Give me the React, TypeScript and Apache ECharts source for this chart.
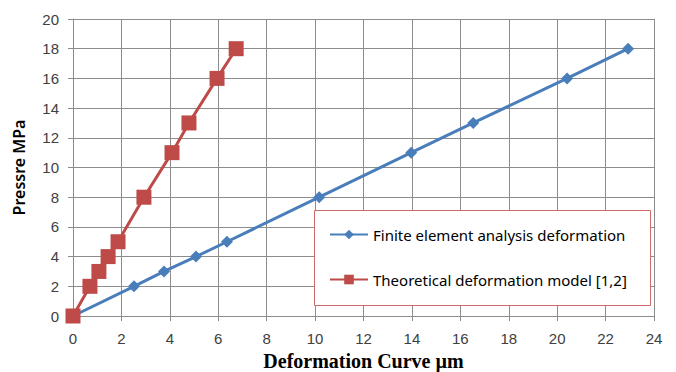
import React, { useEffect, useRef } from "react";
import * as echarts from "echarts";

const feaX = [0, 2.52, 3.76, 5.08, 6.36, 10.17, 13.97, 16.53, 20.41, 22.93];
const feaY = [0, 2, 3, 4, 5, 8, 11, 13, 16, 18];
const theoX = [0, 0.7, 1.07, 1.45, 1.86, 2.93, 4.09, 4.79, 5.95, 6.74];
const theoY = [0, 2, 3, 4, 5, 8, 11, 13, 16, 18];
const seriesNames = ["Finite element analysis deformation", "Theoretical deformation model [1,2]"];
const xTitle = "Deformation Curve µm";
const yTitle = "Pressre MPa";

export default function App() {
  const ref = useRef<HTMLDivElement>(null);
  useEffect(() => {
    const chart = echarts.init(ref.current!, null, { renderer: "svg" });
    const grid = "#8c8c8c";
    const tickFont = { color: "#404040", fontSize: 15, fontFamily: "Liberation Sans" };
    chart.setOption({
      animation: false,
      backgroundColor: "#ffffff",
      grid: { left: 73, right: 22, top: 19, bottom: 56, containLabel: false, outerBoundsMode: "none" },
      xAxis: {
        type: "value", min: 0, max: 24, interval: 2,
        axisLine: { show: true, onZero: false, lineStyle: { color: grid } },
        axisTick: { show: true, length: 5, lineStyle: { color: grid } },
        splitLine: { show: true, lineStyle: { color: grid } },
        axisLabel: { ...tickFont, margin: 15 },
        name: xTitle, nameLocation: "middle", nameGap: 33,
        nameTextStyle: { fontFamily: "Liberation Serif", fontWeight: "bold", fontSize: 20, color: "#000" },
      },
      yAxis: {
        type: "value", min: 0, max: 20, interval: 2,
        axisLine: { show: true, lineStyle: { color: grid } },
        axisTick: { show: true, length: 5, lineStyle: { color: grid } },
        splitLine: { show: true, lineStyle: { color: grid } },
        axisLabel: { ...tickFont, margin: 14 },
        name: yTitle, nameLocation: "middle", nameGap: 46,
        nameTextStyle: { fontFamily: "Noto Sans", fontWeight: 600, fontSize: 16, color: "#000" },
      },
      graphic: [
        { type: "rect", left: 314, top: 210, shape: { width: 336, height: 95 }, style: { fill: "#fff", stroke: "#d06a6a", lineWidth: 1 }, z: 50 },
      ],
      legend: {
        orient: "vertical", left: 324, top: 222, itemGap: 30, itemWidth: 38, itemHeight: 12, z: 60,
        textStyle: { fontFamily: "Noto Sans", fontSize: 15, color: "#000" },
        data: seriesNames,
      },
      series: [
        {
          name: seriesNames[0], type: "line", data: feaX.map((x, i) => [x, feaY[i]]),
          symbol: "diamond", symbolSize: 12, color: "#4a7ebb",
          lineStyle: { width: 3, color: "#4a7ebb" }, itemStyle: { color: "#4a7ebb" }, z: 3,
        },
        {
          name: seriesNames[1], type: "line", data: theoX.map((x, i) => [x, theoY[i]]),
          symbol: "rect", symbolSize: 15, color: "#be4b48",
          lineStyle: { width: 3, color: "#be4b48" }, itemStyle: { color: "#be4b48" }, z: 4,
        },
      ],
    });
    return () => chart.dispose();
  }, []);
  return <div ref={ref} style={{ position: "fixed", left: 0, top: 0, width: 676, height: 372 }} />;
}
